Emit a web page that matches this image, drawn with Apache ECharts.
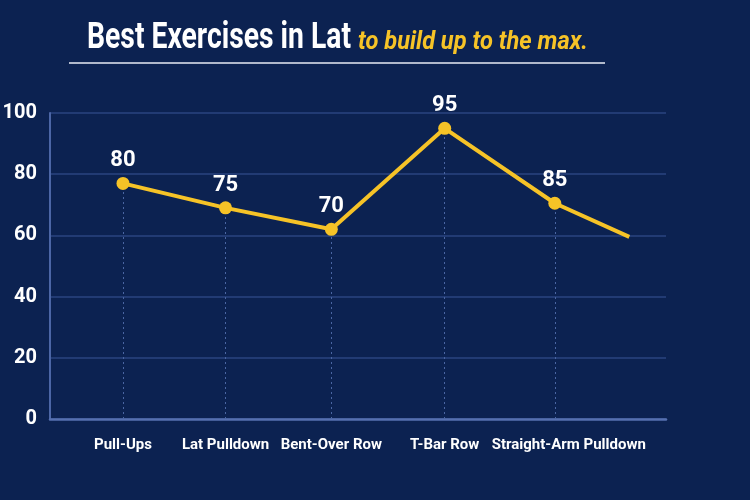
<!DOCTYPE html>
<html>
<head>
<meta charset="utf-8">
<script src="https://cdn.jsdelivr.net/npm/echarts@6/dist/echarts.min.js"></script>
<style>
  html, body { margin: 0; padding: 0; background: #0c2251; }
  #chart { width: 750px; height: 500px; }
</style>
</head>
<body>
<div id="chart"></div>
<script>
// exercise names on the x axis
const categories = ['Pull-Ups', 'Lat Pulldown', 'Bent-Over Row', 'T-Bar Row', 'Straight-Arm Pulldown']
// x position of every point (about one unit per exercise,
// the last point trails off past the last exercise)
const xIndex = [0, 0.95, 1.93, 2.98, 4, 4.69]
// plotted values
const values = [77, 69, 62, 95, 70.5, 59.5]
// the numbers printed over the points
const pointLabels = ['80', '75', '70', '95', '85', '']
const yTicks = [0, 20, 40, 60, 80, 100]

const FONT = 'Roboto, "Noto Sans", sans-serif'
const YELLOW = '#f6c327'

const TITLE_MAIN = 'Best Exercises in Lat'
const TITLE_SUB = 'to build up to the max.'

// title font is a condensed one, squeeze the text to the width it has in the picture
function squeeze (text, font, width) {
  let ctx = document.createElement('canvas').getContext('2d')
  ctx.font = font
  return width / ctx.measureText(text).width
}
const mainFont = 'bold 36px ' + FONT
const subFont = 'italic bold 25px ' + FONT

let chart = echarts.init(document.getElementById('chart'))

let option = {
  backgroundColor: '#0c2251',
  animation: false,
  graphic: [
    {
      type: 'text',
      x: 87,
      y: 39,
      scaleX: squeeze(TITLE_MAIN, mainFont, 264),
      style: { text: TITLE_MAIN, font: mainFont, fill: '#ffffff', textVerticalAlign: 'middle' }
    },
    {
      type: 'text',
      x: 358,
      y: 43,
      scaleX: squeeze(TITLE_SUB, subFont, 230),
      style: { text: TITLE_SUB, font: subFont, fill: YELLOW, textVerticalAlign: 'middle' }
    },
    {
      type: 'line',
      shape: { x1: 69, y1: 63, x2: 605, y2: 63 },
      style: { stroke: '#e8ecf5', lineWidth: 1.5 }
    }
  ],
  grid: { left: 50, right: 84, top: 113, bottom: 81, outerBoundsMode: 'none' },
  xAxis: {
    type: 'value',
    min: -0.676,
    max: 5.03,
    axisLine: { show: true, lineStyle: { color: '#5670b0', width: 2.5 } },
    axisTick: { show: false },
    splitLine: { show: false },
    axisLabel: {
      customValues: xIndex.slice(0, categories.length),
      hideOverlap: false,
      formatter: v => {
        let i = xIndex.indexOf(v)
        let name = categories[i] || ''
        return i === categories.length - 1 ? '{last|' + name + '}' : name
      },
      rich: {
        last: { padding: [0, 0, 0, 28], color: '#ffffff', fontFamily: FONT, fontWeight: 'bold', fontSize: 15 }
      },
      color: '#ffffff',
      fontFamily: FONT,
      fontWeight: 'bold',
      fontSize: 15,
      margin: 19
    }
  },
  yAxis: {
    type: 'value',
    min: yTicks[0],
    max: yTicks[yTicks.length - 1],
    interval: 20,
    axisLine: { show: true, onZero: false, lineStyle: { color: '#4c66a6', width: 2 } },
    axisTick: { show: false },
    splitLine: { lineStyle: { color: '#2a4580', width: 1.5 } },
    axisLabel: {
      color: '#ffffff',
      fontFamily: FONT,
      fontWeight: 'bold',
      fontSize: 20,
      margin: 13
    }
  },
  series: [
    {
      type: 'line',
      data: xIndex.map((x, i) => [x, values[i]]),
      lineStyle: { color: YELLOW, width: 4 },
      itemStyle: { color: YELLOW },
      symbol: 'circle',
      symbolSize: (val, params) => (pointLabels[params.dataIndex] ? 13 : 0),
      label: {
        show: true,
        position: 'top',
        distance: 5,
        formatter: p => pointLabels[p.dataIndex],
        color: '#ffffff',
        fontFamily: FONT,
        fontWeight: 'bold',
        fontSize: 22
      },
      markLine: {
        silent: true,
        symbol: 'none',
        label: { show: false },
        lineStyle: { color: '#4a66a3', type: [2, 3], width: 1 },
        data: categories.map((c, i) => [
          { coord: [xIndex[i], 0] },
          { coord: [xIndex[i], values[i]] }
        ])
      },
      z: 5
    }
  ]
}

chart.setOption(option)
</script>
</body>
</html>
